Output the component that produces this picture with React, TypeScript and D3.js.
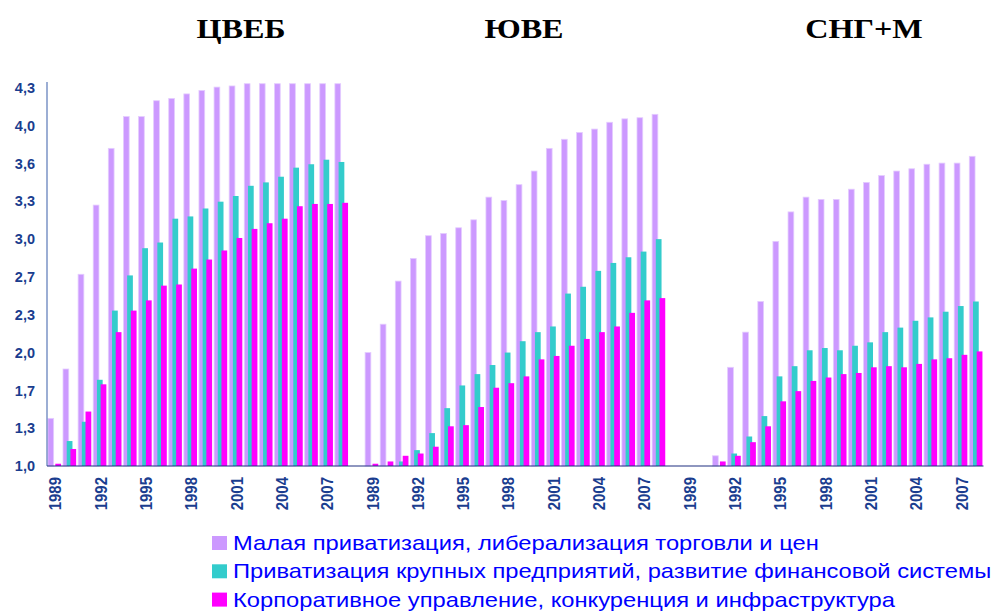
import React, { useRef, useEffect } from 'react';
import * as d3 from 'd3';

// ── Data ──────────────────────────────────────────────────────────────────────
const YEARS = d3.range(1989, 2009).map(String);
const REGIONS = ['ЦВЕБ', 'ЮВЕ', 'СНГ+М'];
const SERIES = [
  'Малая приватизация, либерализация торговли и цен',
  'Приватизация крупных предприятий, развитие финансовой системы',
  'Корпоративное управление, конкуренция и инфраструктура',
];
const COLORS = ['#CC99FF', '#33CCCC', '#FF00FF'];
const Y_TICK_LABELS = ['1,0', '1,3', '1,7', '2,0', '2,3', '2,7', '3,0', '3,3', '3,6', '4,0', '4,3'];
const X_TICK_YEARS = ['1989', '1992', '1995', '1998', '2001', '2004', '2007'];

// ЦВЕБ
const ceSmall = [1.42, 1.855, 2.69, 3.3, 3.8, 4.08, 4.08, 4.22, 4.24, 4.28, 4.31, 4.34, 4.35, 4.37, 4.37, 4.37, 4.37, 4.37, 4.37, 4.37];
const ceLarge = [1.0, 1.22, 1.39, 1.76, 2.37, 2.68, 2.92, 2.97, 3.18, 3.2, 3.27, 3.33, 3.38, 3.47, 3.5, 3.55, 3.63, 3.66, 3.7, 3.68];
const ceGov = [1.02, 1.15, 1.48, 1.72, 2.18, 2.37, 2.46, 2.59, 2.6, 2.74, 2.82, 2.9, 3.01, 3.09, 3.14, 3.18, 3.29, 3.31, 3.31, 3.32];
// ЮВЕ
const seSmall = [2.0, 2.25, 2.63, 2.83, 3.03, 3.05, 3.1, 3.17, 3.37, 3.34, 3.48, 3.6, 3.8, 3.88, 3.94, 3.97, 4.03, 4.06, 4.07, 4.1];
const seLarge = [1.0, 1.0, 1.04, 1.14, 1.29, 1.51, 1.71, 1.81, 1.89, 2.0, 2.1, 2.18, 2.23, 2.52, 2.58, 2.72, 2.79, 2.84, 2.89, 3.0];
const seGov = [1.02, 1.04, 1.09, 1.11, 1.17, 1.35, 1.36, 1.52, 1.69, 1.73, 1.79, 1.94, 1.97, 2.06, 2.12, 2.18, 2.23, 2.35, 2.46, 2.48];
// СНГ+М
const cisSmall = [null, null, 1.09, 1.87, 2.18, 2.45, 2.98, 3.24, 3.37, 3.35, 3.35, 3.44, 3.5, 3.56, 3.6, 3.62, 3.66, 3.67, 3.67, 3.73];
const cisLarge = [null, null, 1.0, 1.11, 1.26, 1.44, 1.79, 1.88, 2.02, 2.04, 2.02, 2.06, 2.09, 2.18, 2.22, 2.28, 2.31, 2.36, 2.41, 2.45];
const cisGov = [null, null, 1.04, 1.09, 1.21, 1.35, 1.57, 1.66, 1.75, 1.78, 1.81, 1.82, 1.87, 1.88, 1.87, 1.9, 1.94, 1.95, 1.98, 2.01];

const REGION_DATA: (number | null)[][][] = [
  [ceSmall, ceLarge, ceGov],
  [seSmall, seLarge, seGov],
  [cisSmall, cisLarge, cisGov],
];

const TITLE_X = [241, 524, 864];

export default function App() {
  const svgRef = useRef<SVGSVGElement>(null);

  useEffect(() => {
    if (!svgRef.current) return;
    const W = 1006, H = 614;
    const svg = d3.select(svgRef.current);
    svg.selectAll('*').remove();
    svg.attr('width', W).attr('height', H);

    const left = 47, right = 983.5, base = 466, top = 82;

    // slots: 20 years per region, one empty slot between regions
    const slots: string[] = [];
    REGIONS.forEach((r, gi) => {
      YEARS.forEach(y => slots.push(`${gi}-${y}`));
      if (gi < REGIONS.length - 1) slots.push(`gap-${gi}`);
    });
    const x = d3.scaleBand().domain(slots).range([left, right]).paddingInner(0).paddingOuter(0);
    const bw = x.bandwidth();
    const y = d3.scaleLinear().domain([1, 4.385]).range([base, top]);

    const barW = bw * 0.38, step = bw * 0.245, pad = bw * 0.06;

    // ── Bars ─────────────────────────────────────────────────────────────────
    const g = svg.append('g');
    REGION_DATA.forEach((series, gi) => {
      YEARS.forEach((yr, yi) => {
        const sx = x(`${gi}-${yr}`)!;
        series.forEach((vals, si) => {
          const v = vals[yi];
          if (v == null || v <= 1) return;
          g.append('rect')
            .attr('x', sx + pad + si * step)
            .attr('y', y(v))
            .attr('width', barW)
            .attr('height', base - y(v))
            .attr('fill', COLORS[si])
            .attr('stroke', si === 0 ? '#E4CCFF' : 'none')
            .attr('stroke-width', si === 0 ? 0.8 : 0);
        });
      });
    });

    // ── Axes ─────────────────────────────────────────────────────────────────
    svg.append('line')
      .attr('x1', left).attr('x2', left).attr('y1', top).attr('y2', base)
      .attr('stroke', '#5A78B8').attr('stroke-width', 1.2);
    svg.append('line')
      .attr('x1', left).attr('x2', right).attr('y1', base).attr('y2', base)
      .attr('stroke', '#1F2F80').attr('stroke-width', 1.2);

    const tickVals = Y_TICK_LABELS.map((_, i) => 1 + i / 3);
    const yAxis = svg.append('g')
      .attr('transform', `translate(${left},0)`)
      .call(d3.axisLeft(y).tickValues(tickVals).tickSize(0).tickPadding(12)
        .tickFormat((_, i) => Y_TICK_LABELS[i]));
    yAxis.select('.domain').remove();
    yAxis.selectAll('text')
      .attr('fill', '#1A3D8F')
      .attr('font-family', '"Liberation Sans", Arial, sans-serif')
      .attr('font-size', '14.5px')
      .attr('font-weight', 700);

    // x labels (rotated)
    REGIONS.forEach((_, gi) => {
      X_TICK_YEARS.forEach(yr => {
        const cx = x(`${gi}-${yr}`)! + bw / 2 + 1;
        svg.append('text')
          .attr('transform', `translate(${cx},477) scale(1.1,1) rotate(-90)`)
          .attr('text-anchor', 'end')
          .attr('dy', '0.35em')
          .attr('fill', '#1A3D8F')
          .attr('font-family', '"Liberation Sans", Arial, sans-serif')
          .attr('font-size', '15px')
          .attr('font-weight', 700)
          .text(yr);
      });
    });

    // ── Titles ───────────────────────────────────────────────────────────────
    REGIONS.forEach((r, gi) => {
      svg.append('text')
        .attr('transform', `translate(${TITLE_X[gi]},38) scale(1.15,1)`)
        .attr('text-anchor', 'middle')
        .attr('font-family', '"Liberation Serif", "Times New Roman", serif')
        .attr('font-size', '28px')
        .attr('font-weight', 700)
        .attr('fill', '#000')
        .text(r);
    });

    // ── Legend ───────────────────────────────────────────────────────────────
    SERIES.forEach((s, si) => {
      const by = 550 + si * 28.3;
      svg.append('rect')
        .attr('x', 212).attr('y', by - 14).attr('width', 15).attr('height', 14)
        .attr('fill', COLORS[si]);
      svg.append('text')
        .attr('transform', `translate(233,${by}) scale(1.13,1)`)
        .attr('font-family', '"Liberation Sans", Arial, sans-serif')
        .attr('font-size', '21px')
        .attr('fill', '#0000FF')
        .text(s);
    });
  }, []);

  return (
    <div style={{ position: 'absolute', left: 0, top: 0, width: 1006, height: 614, background: '#fff' }}>
      <svg ref={svgRef} style={{ display: 'block' }} />
    </div>
  );
}
